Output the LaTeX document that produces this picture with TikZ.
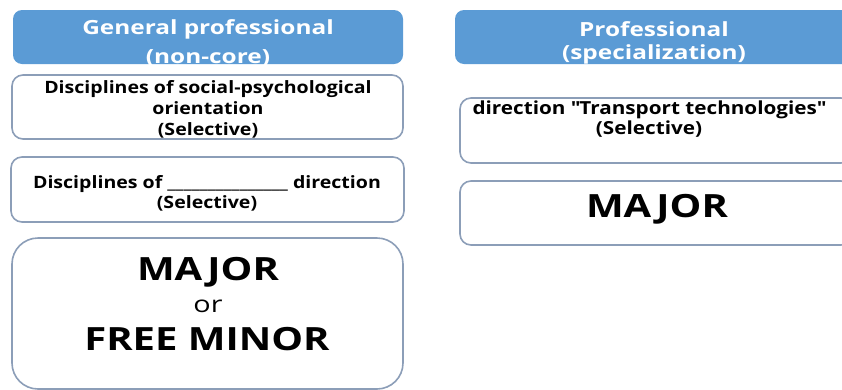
\documentclass[tikz,border=0pt]{standalone}
\usepackage{fontspec}
\setmainfont{Open Sans}[FakeStretch=1.25]
\newfontfamily\cardfont{Open Sans}[FakeStretch=1.15]
\definecolor{headblue}{RGB}{91,155,213}
\definecolor{cardline}{RGB}{140,158,184}
\tikzset{
  headbox/.style={fill=headblue, draw=none, rounded corners=9pt},
  cardbox/.style={draw=cardline, line width=1.6pt, fill=white, rounded corners=11pt},
  headtext/.style={text=white, align=center, inner sep=0pt},
  cardtext/.style={font=\cardfont\bfseries\fontsize{17}{21}\selectfont, align=center, inner sep=0pt},
  bigtext/.style={font=\bfseries\fontsize{32}{38}\selectfont, inner sep=0pt, anchor=base},
}

\begin{document}
\begin{tikzpicture}[x=1pt,y=-1pt]
    \useasboundingbox (0,0) rectangle (842,389);
    % left column
    \fill[headbox] (13,10) rectangle (403,64);
    \draw[cardbox] (12,75) rectangle (403,139);
    \draw[cardbox] (11,157) rectangle (404,222);
    \draw[cardbox, rounded corners=26pt] (12,238) rectangle (403,389);
    \node[headtext, font=\bfseries\fontsize{19.5}{29}\selectfont] (genhead) at (208,43.5) {General professional\\(non-core)};
    \node[cardtext] (socdisc) at (208,109) {Disciplines of social-psychological\\orientation\\(Selective)};
    \node[cardtext, font=\cardfont\bfseries\fontsize{17}{20}\selectfont] (dirdisc) at (207,193.5) {Disciplines of \_\_\_\_\_\_\_\_\_\_\_\_\_\_\_ direction\\(Selective)};
    \node[bigtext] (majleft) at (208,280) {MAJOR};
    \node[font=\fontsize{23}{26}\selectfont, inner sep=0pt, anchor=base] (orword) at (208,312) {or};
    \node[bigtext] (freeminor) at (207,350) {FREE MINOR};
    % right column
    \fill[headbox] (455,10) rectangle (852,64);
    \draw[cardbox] (460,98) rectangle (852,163);
    \draw[cardbox] (460,181) rectangle (852,245);
    \node[headtext, font=\bfseries\fontsize{19.5}{23}\selectfont] (prohead) at (654,42.5) {Professional\\(specialization)};
    \node[cardtext, font=\cardfont\bfseries\fontsize{18}{20}\selectfont] (trandisc) at (649,119.5) {direction \textquotedbl Transport technologies\textquotedbl\\(Selective)};
    \node[bigtext] (majright) at (657,217) {MAJOR};
\end{tikzpicture}
\end{document}
